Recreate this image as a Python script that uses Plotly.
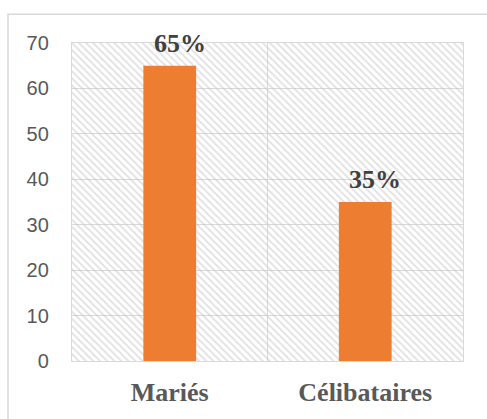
import plotly.graph_objects as go

categories = ["Mariés", "Célibataires"]
values = [65, 35]
labels = ["65%", "35%"]
y_max = 70
y_ticks = [0, 10, 20, 30, 40, 50, 60, 70]

fig = go.Figure()

# hatched background of the plot area
fig.add_trace(go.Bar(
    x=categories, y=[y_max] * len(categories), width=1,
    marker=dict(color="rgba(0,0,0,0)", line=dict(width=0),
                pattern=dict(shape="\\", fgcolor="#c4c4c4", size=5, solidity=0.35)),
    hoverinfo="skip", showlegend=False,
))

fig.add_trace(go.Bar(
    x=categories, y=values, width=0.27,
    marker=dict(color="#ED7D31", line=dict(width=0)),
    showlegend=False,
))

for c, v, t in zip(categories, values, labels):
    fig.add_annotation(x=c, y=v, text="<b>%s</b>" % t, showarrow=False, yanchor="bottom",
                       xshift=10, yshift=6,
                       font=dict(family="Liberation Serif", size=26, color="#404040"))

fig.update_layout(
    width=487, height=419,
    margin=dict(l=72, r=24, t=43, b=56),
    paper_bgcolor="white", plot_bgcolor="white",
    barmode="overlay",
    xaxis=dict(tickson="boundaries", showgrid=True, gridcolor="#d9d9d9", gridwidth=1.3,
               showline=True, linecolor="#d9d9d9", linewidth=1.3, mirror=True,
               ticks="", tickfont=dict(family="Liberation Serif", size=26, color="#595959"),
               tickvals=categories, ticktext=["<b>%s</b>" % c for c in categories],
               ticklabelstandoff=8),
    yaxis=dict(range=[0, y_max], tickvals=y_ticks, showgrid=True, gridcolor="#d9d9d9",
               gridwidth=1.3, zeroline=False,
               showline=True, linecolor="#d9d9d9", linewidth=1.3, mirror=True,
               ticks="", tickfont=dict(family="Liberation Sans", size=20, color="#595959"),
               ticklabelstandoff=18),
    font=dict(family="Liberation Sans"),
)

# outer chart border
fig.add_shape(type="rect", xref="paper", yref="paper",
              x0=-0.1637, y0=-0.3, x1=1.3, y1=1.0906,
              line=dict(color="#d9d9d9", width=1.5), layer="below")

fig.write_html("out.html", config={"displayModeBar": False},
               post_script="document.body.style.margin='0';")
